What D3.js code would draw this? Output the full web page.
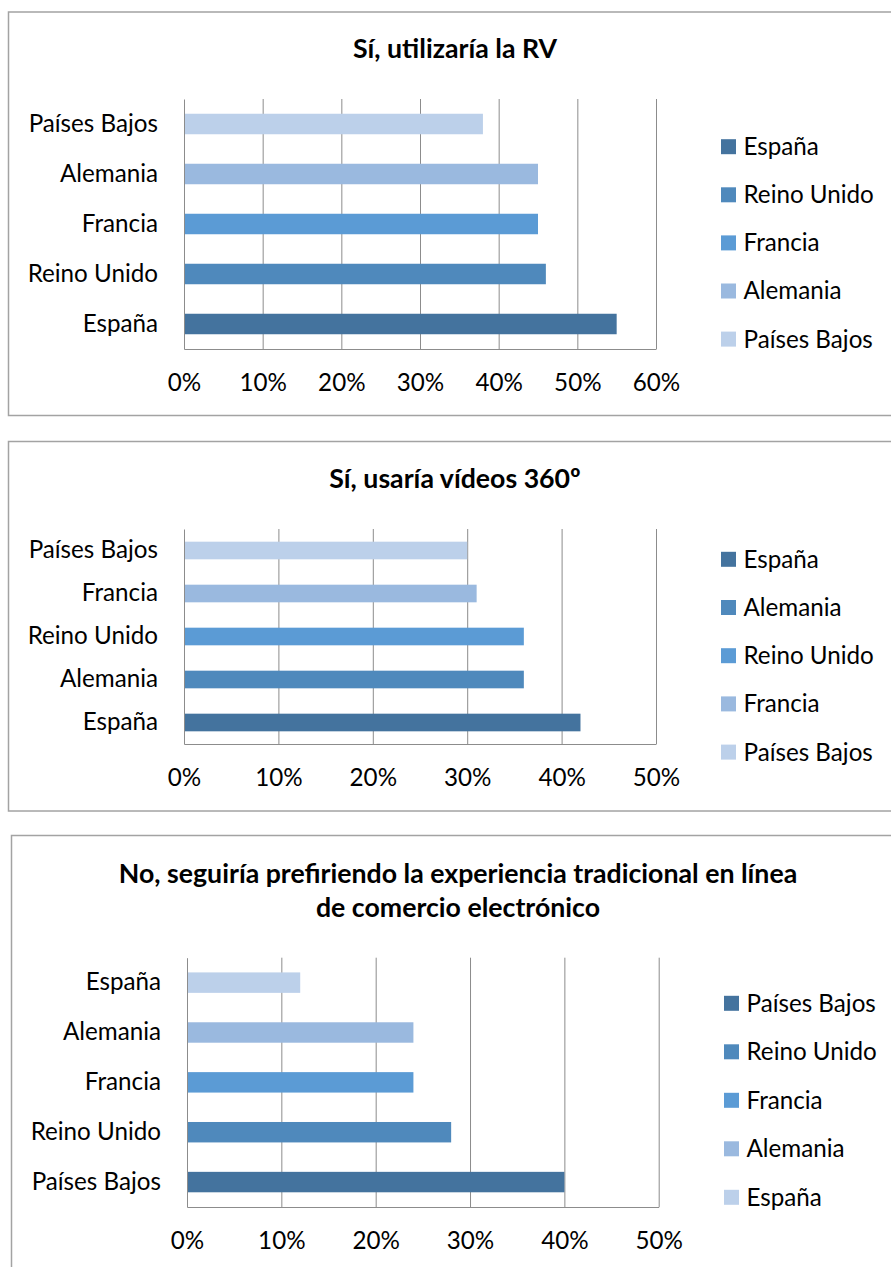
<!DOCTYPE html>
<html>
<head>
<meta charset="utf-8">
<script src="https://cdn.jsdelivr.net/npm/d3@7"></script>
<style>
  body { margin: 0; background: #fff; }
  svg { display: block; font-family: Lato, "Open Sans", sans-serif; }
  .axis text { fill: #000; font-size: 24.2px; }
  .legend text { fill: #000; font-size: 24.2px; }
  .title { font-weight: bold; font-size: 26.7px; fill: #000; }
</style>
</head>
<body>
<div id="chart"></div>
<script>
// three horizontal bar charts, one per survey answer
const titles1 = ['Sí, utilizaría la RV'];
const cats1 = ['España', 'Reino Unido', 'Francia', 'Alemania', 'Países Bajos'];
const values1 = [0.55, 0.46, 0.45, 0.45, 0.38];
const ticks1 = [0, 0.1, 0.2, 0.3, 0.4, 0.5, 0.6];

const titles2 = ['Sí, usaría vídeos 360º'];
const cats2 = ['España', 'Alemania', 'Reino Unido', 'Francia', 'Países Bajos'];
const values2 = [0.42, 0.36, 0.36, 0.31, 0.30];
const ticks2 = [0, 0.1, 0.2, 0.3, 0.4, 0.5];

const titles3 = ['No, seguiría prefiriendo la experiencia tradicional en línea', 'de comercio electrónico'];
const cats3 = ['Países Bajos', 'Reino Unido', 'Francia', 'Alemania', 'España'];
const values3 = [0.40, 0.28, 0.24, 0.24, 0.12];
const ticks3 = [0, 0.1, 0.2, 0.3, 0.4, 0.5];

// bar colours go by position (bottom bar darkest), not by country
const palette = ['#44739e', '#4f89bc', '#5b9bd5', '#9ab9df', '#bcd0ea'];

const svg = d3.select('#chart')
    .append('svg')
    .attr('width', 891)
    .attr('height', 1267);

function drawPanel(p) {
    const g = svg.append('g');

    g.append('rect')
        .attr('x', p.box[0]).attr('y', p.box[1])
        .attr('width', p.box[2] - p.box[0]).attr('height', p.box[3] - p.box[1])
        .attr('fill', '#fff')
        .attr('stroke', '#a3a3a3')
        .attr('stroke-width', 1.5);

    g.selectAll('.title')
        .data(p.titles)
        .enter()
        .append('text')
        .attr('class', 'title')
        .attr('x', p.titleX)
        .attr('y', (d, i) => p.titleY + i * 34)
        .attr('text-anchor', 'middle')
        .text(d => d);

    const xScale = d3.scaleLinear()
        .domain([0, d3.max(p.ticks)])
        .range([p.left, p.right]);
    const yScale = d3.scaleBand()
        .domain(p.cats)
        .range([p.bottom, p.top])
        .paddingInner(0.59)
        .paddingOuter(0.295);

    // vertical gridlines
    g.append('g')
        .attr('transform', `translate(0,${p.bottom})`)
        .call(d3.axisBottom(xScale).tickValues(p.ticks.slice(1)).tickSize(-(p.bottom - p.top)).tickFormat(''))
        .call(a => a.select('.domain').remove())
        .call(a => a.selectAll('line').attr('stroke', '#8c8c8c'));

    g.selectAll('.bar')
        .data(p.values)
        .enter()
        .append('rect')
        .attr('class', 'bar')
        .attr('x', xScale(0))
        .attr('y', (d, i) => yScale(p.cats[i]))
        .attr('width', d => xScale(d) - xScale(0))
        .attr('height', yScale.bandwidth())
        .attr('fill', (d, i) => palette[i]);

    // value axis labels + baseline
    g.append('g')
        .attr('class', 'axis')
        .attr('transform', `translate(0,${p.bottom})`)
        .call(d3.axisBottom(xScale).tickValues(p.ticks).tickSize(0).tickPadding(24.5).tickFormat(d3.format('.0%')))
        .call(a => a.select('.domain').attr('stroke', '#8c8c8c'));

    // category axis
    g.append('g')
        .attr('class', 'axis')
        .attr('transform', `translate(${p.left},0)`)
        .call(d3.axisLeft(yScale).tickSize(0).tickPadding(26))
        .call(a => a.select('.domain').attr('stroke', '#8c8c8c'));

    svg.selectAll('.axis').attr('font-family', null).attr('font-size', null);

    const legend = g.append('g').attr('class', 'legend');
    const items = legend.selectAll('g')
        .data(p.cats)
        .enter()
        .append('g')
        .attr('transform', (d, i) => `translate(${p.legendX},${p.legendY + i * p.legendStep})`);
    items.append('rect')
        .attr('x', 0).attr('y', -7.5)
        .attr('width', 15).attr('height', 15)
        .attr('fill', (d, i) => palette[i]);
    items.append('text')
        .attr('x', 22.5)
        .attr('dy', '0.35em')
        .text(d => d);
}

drawPanel({
    box: [8.5, 12, 905, 415.5],
    titles: titles1, titleX: 455, titleY: 58,
    cats: cats1, values: values1, ticks: ticks1,
    left: 184, right: 656, top: 99, bottom: 349,
    legendX: 721, legendY: 146.7, legendStep: 48.1
});

drawPanel({
    box: [8.5, 441.5, 905, 811],
    titles: titles2, titleX: 455, titleY: 488,
    cats: cats2, values: values2, ticks: ticks2,
    left: 184, right: 656, top: 529, bottom: 744,
    legendX: 721, legendY: 559.3, legendStep: 48.2
});

drawPanel({
    box: [11.5, 835.5, 905, 1290],
    titles: titles3, titleX: 458, titleY: 882.7,
    cats: cats3, values: values3, ticks: ticks3,
    left: 187, right: 658.7, top: 957.7, bottom: 1207,
    legendX: 724, legendY: 1003.3, legendStep: 48.5
});
</script>
</body>
</html>
